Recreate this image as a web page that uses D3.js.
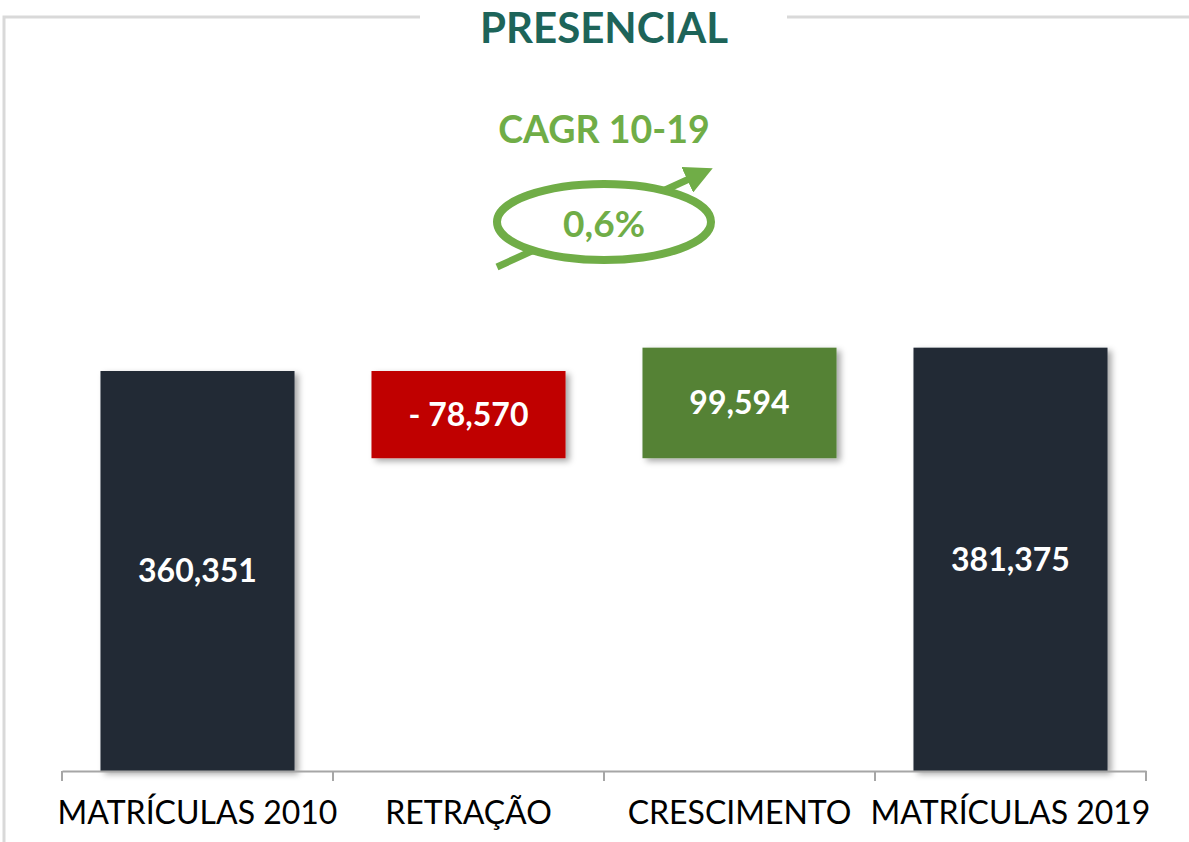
<!DOCTYPE html>
<html>
<head>
<meta charset="utf-8">
<script src="https://cdn.jsdelivr.net/npm/d3@7"></script>
<style>
  body { margin: 0; background: #fff; }
  text { font-family: Lato, "Open Sans", sans-serif; }
</style>
</head>
<body>
<div id="chart"></div>
<script>
var categories = ["MATRÍCULAS 2010", "RETRAÇÃO", "CRESCIMENTO", "MATRÍCULAS 2019"];
var values = [360351, -78570, 99594, 381375];
var valueLabels = ["360,351", "- 78,570", "99,594", "381,375"];
var barTypes = ["total", "down", "up", "total"];
var cagrLabel = "0,6%";

var svgWidth = 1189;
var svgHeight = 842;
var margin = { top: 0, right: 43, bottom: 71, left: 62 };
var width = svgWidth - margin.left - margin.right;
var height = svgHeight - margin.top - margin.bottom;

var colors = { total: "#222935", down: "#c00000", up: "#548235" };

// waterfall start/end
var bars = [];
var running = 0;
values.forEach(function(v, i) {
  var d = { cat: categories[i], type: barTypes[i], label: valueLabels[i] };
  if (barTypes[i] === "total") {
    d.y0 = 0; d.y1 = v; running = v;
  } else if (barTypes[i] === "down") {
    d.y0 = running + v; d.y1 = running; running = running + v;
  } else {
    d.y0 = running; d.y1 = running + v; running = running + v;
  }
  bars.push(d);
});

var svg = d3.select("#chart").append("svg")
  .attr("width", svgWidth)
  .attr("height", svgHeight);

var defs = svg.append("defs");
var f = defs.append("filter").attr("id", "shadow")
  .attr("x", "-10%").attr("y", "-10%").attr("width", "130%").attr("height", "130%");
f.append("feDropShadow").attr("dx", 4).attr("dy", 3).attr("stdDeviation", 3)
  .attr("flood-color", "#000").attr("flood-opacity", 0.35);

defs.append("marker").attr("id", "arrowhead")
  .attr("viewBox", "0 0 10 10").attr("refX", 5).attr("refY", 5)
  .attr("markerWidth", 4).attr("markerHeight", 4)
  .attr("markerUnits", "strokeWidth")
  .attr("orient", "auto")
  .append("path").attr("d", "M0,0 L10,5 L0,10 z").attr("fill", "#70ad47");

// frame
svg.append("path")
  .attr("d", "M4,842 L4,17 L420,17 M787,17 L1189,17")
  .attr("fill", "none").attr("stroke", "#d9d9d9").attr("stroke-width", 3);

svg.append("text")
  .attr("x", 604).attr("y", 43)
  .attr("text-anchor", "middle")
  .attr("font-size", 42).attr("font-weight", "bold")
  .attr("fill", "#1d6459")
  .text("PRESENCIAL");

var chartGroup = svg.append("g")
  .attr("transform", `translate(${margin.left}, ${margin.top})`);

var x = d3.scaleBand().domain(categories).range([0, width]).paddingInner(0.284).paddingOuter(0.142);
var y = d3.scaleLinear().domain([0, 360351 * 771 / 400]).range([height, 0]);

// bars
chartGroup.selectAll("rect.bar").data(bars).enter()
  .append("rect")
  .attr("class", "bar")
  .attr("x", d => x(d.cat))
  .attr("y", d => y(d.y1))
  .attr("width", x.bandwidth())
  .attr("height", d => y(d.y0) - y(d.y1))
  .attr("fill", d => colors[d.type])
  .attr("filter", "url(#shadow)");

chartGroup.selectAll("text.val").data(bars).enter()
  .append("text")
  .attr("class", "val")
  .attr("x", d => x(d.cat) + x.bandwidth() / 2)
  .attr("y", d => (y(d.y0) + y(d.y1)) / 2)
  .attr("dy", "0.35em")
  .attr("text-anchor", "middle")
  .attr("font-size", 32).attr("font-weight", "bold")
  .attr("fill", "#fff")
  .text(d => d.label);

// axis
var axis = d3.axisBottom(x).tickSize(0).tickPadding(30);
var ax = chartGroup.append("g")
  .attr("transform", `translate(0, ${height})`)
  .call(axis);
ax.select(".domain").attr("stroke", "#a6a6a6").attr("stroke-width", 2);
ax.selectAll("text").attr("font-size", 32).attr("fill", "#000")
  .attr("font-family", "Lato, sans-serif");
// tick separators between categories
var sep = [0].concat(categories.map(c => x(c) + x.bandwidth() + x.step() * x.paddingInner() / 2));
sep[sep.length - 1] = width;
ax.selectAll("line.sep").data(sep).enter()
  .append("line").attr("class", "sep")
  .attr("x1", d => d).attr("x2", d => d)
  .attr("y1", 0).attr("y2", 10)
  .attr("stroke", "#a6a6a6").attr("stroke-width", 2);

// CAGR annotation
svg.append("text")
  .attr("x", 604).attr("y", 143)
  .attr("text-anchor", "middle")
  .attr("font-size", 37.5).attr("font-weight", "bold")
  .attr("fill", "#70ad47")
  .text("CAGR 10-19");

svg.append("line")
  .attr("x1", 497).attr("y1", 267).attr("x2", 700).attr("y2", 174)
  .attr("stroke", "#70ad47").attr("stroke-width", 7)
  .attr("marker-end", "url(#arrowhead)");

svg.append("ellipse")
  .attr("cx", 604).attr("cy", 222).attr("rx", 107).attr("ry", 38)
  .attr("fill", "#fff").attr("stroke", "#70ad47").attr("stroke-width", 8);

svg.append("text")
  .attr("x", 604).attr("y", 224).attr("dy", "0.35em")
  .attr("text-anchor", "middle")
  .attr("font-size", 37).attr("font-weight", "bold")
  .attr("fill", "#70ad47")
  .text(cagrLabel);
</script>
</body>
</html>
